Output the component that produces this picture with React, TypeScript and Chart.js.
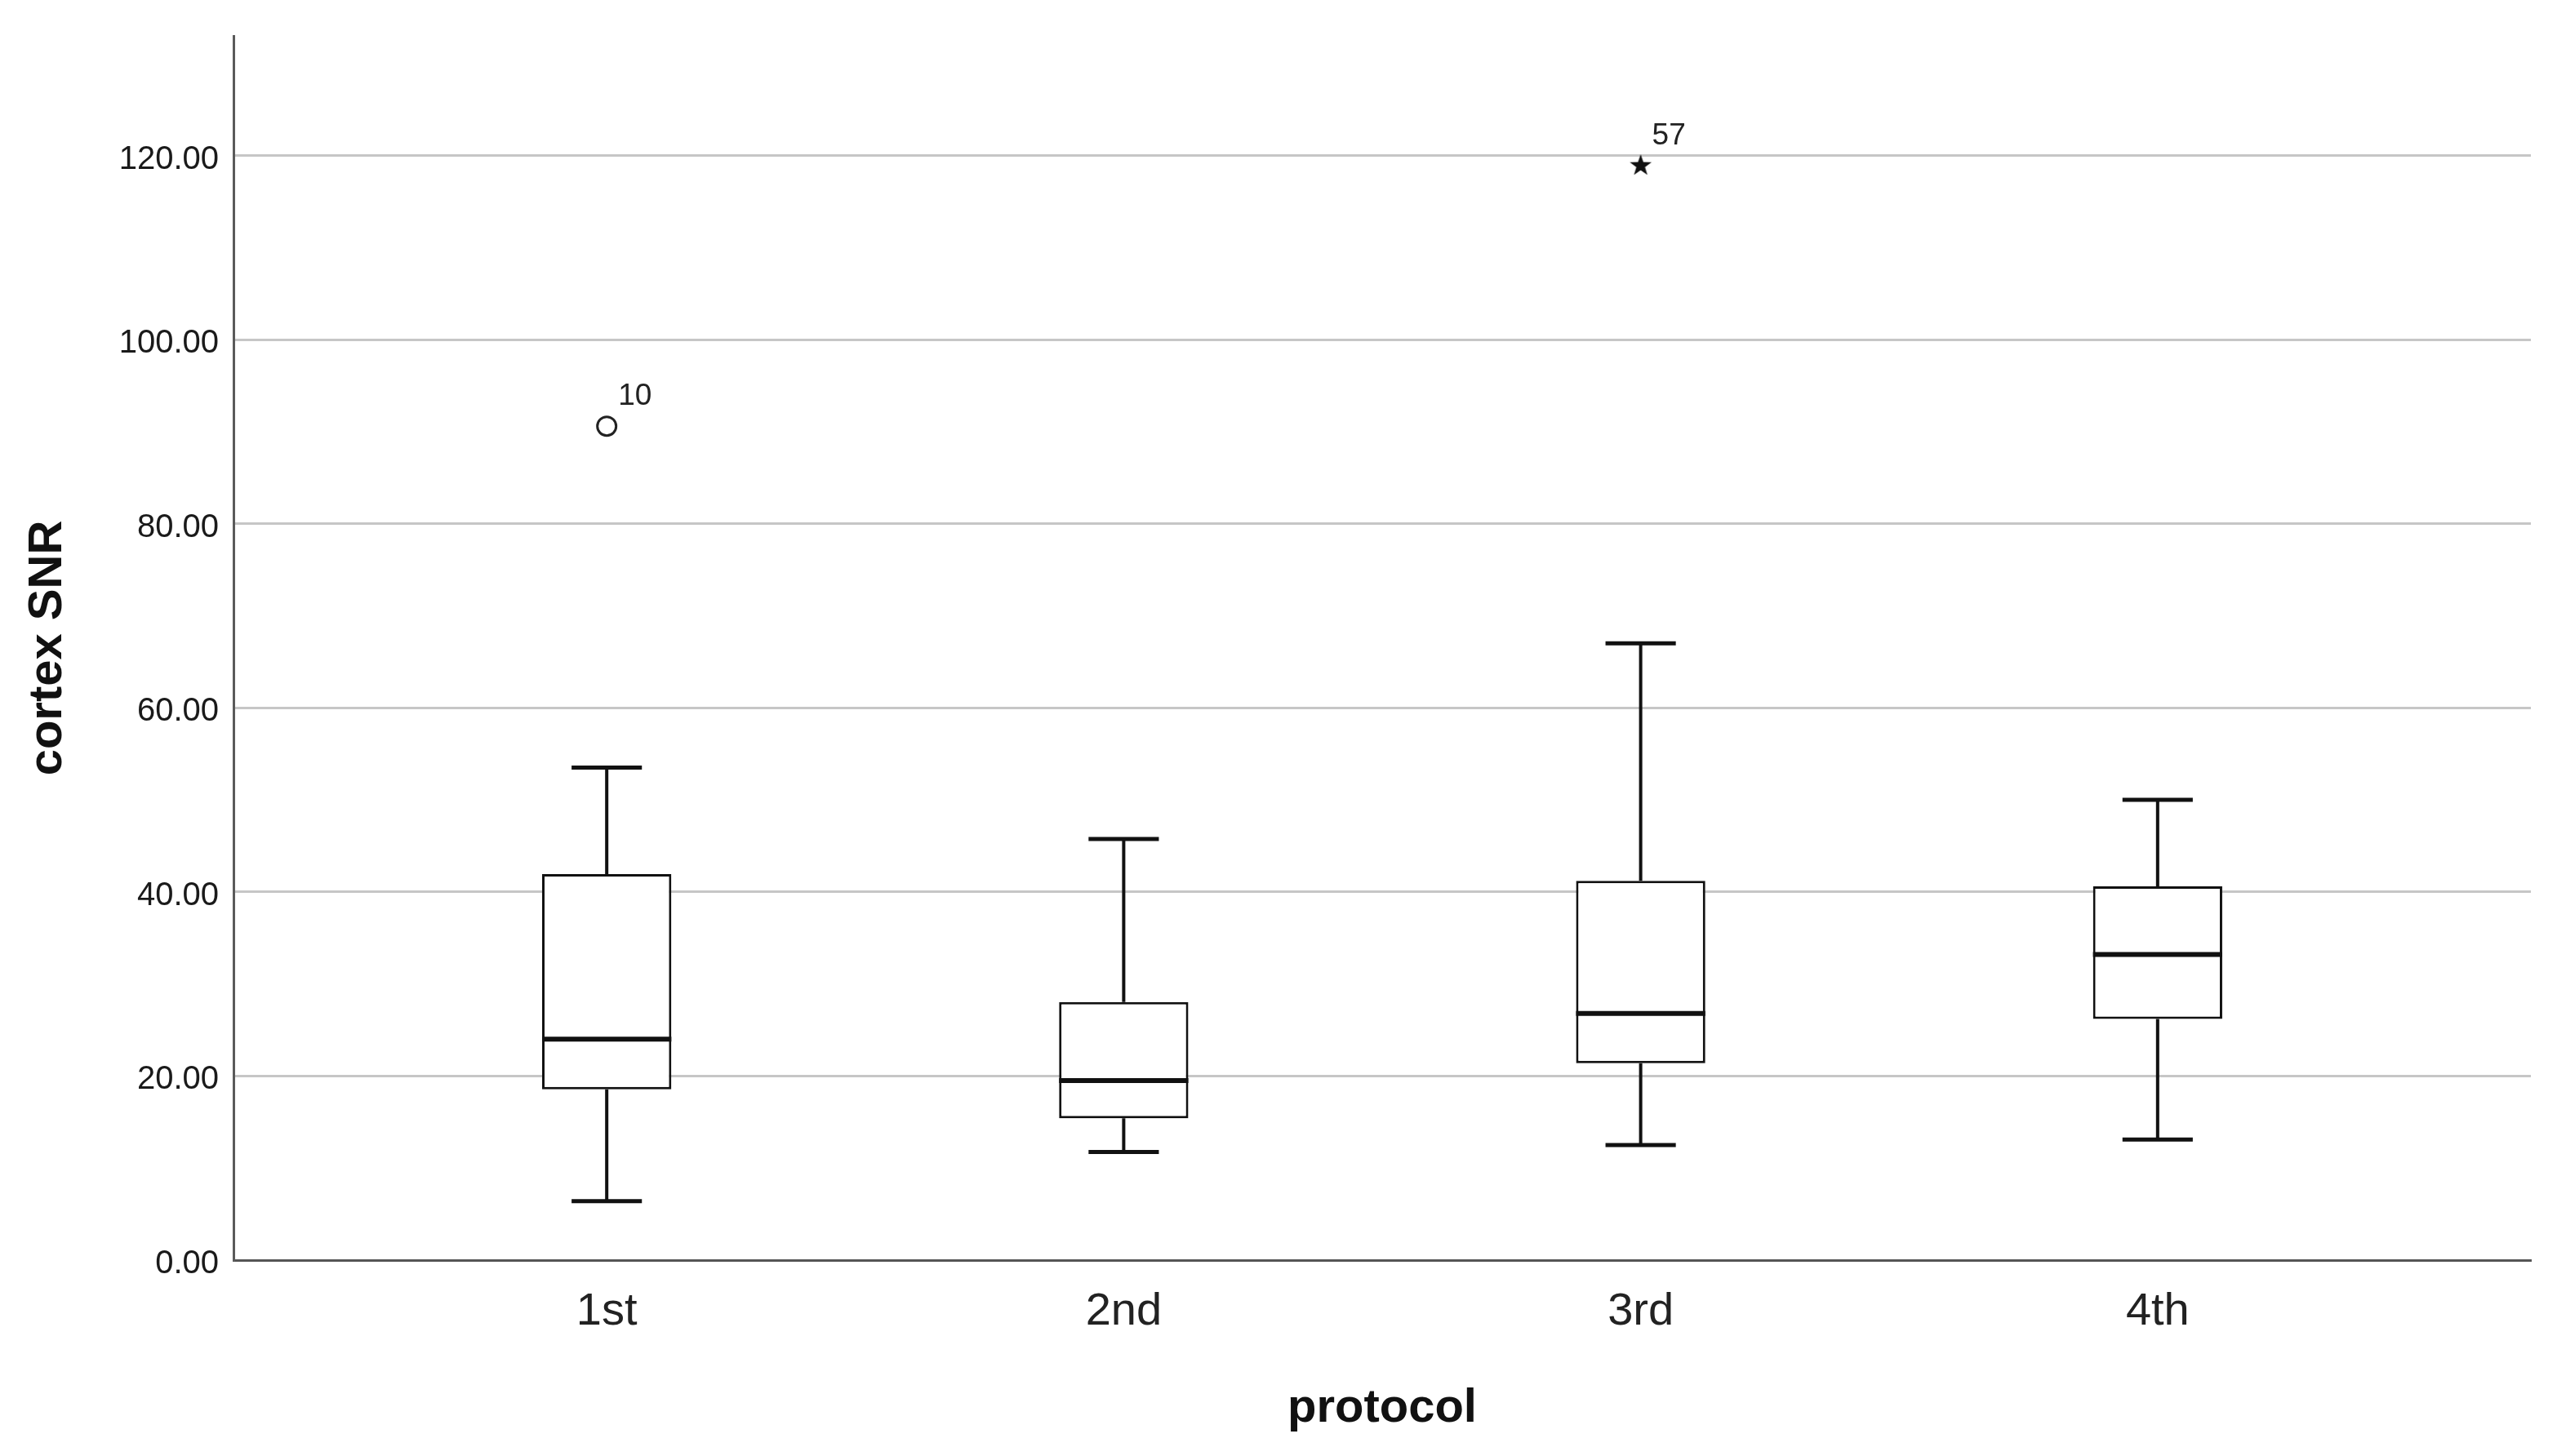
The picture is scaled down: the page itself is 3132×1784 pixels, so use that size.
import React, { useEffect, useRef } from 'react';
import { Chart, registerables } from 'chart.js';

Chart.register(...registerables);

// ---- data ----
const CATEGORIES = ['1st', '2nd', '3rd', '4th'];
const CATEGORY_POS = [1, 2, 3, 4];
const WHISKER_LOW = [6.4, 11.75, 12.5, 13.1];
const Q1 = [18.55, 15.4, 21.4, 26.2];
const MEDIAN = [24.0, 19.5, 26.8, 33.2];
const Q3 = [41.95, 28.05, 41.2, 40.6];
const WHISKER_HIGH = [53.5, 45.75, 67.0, 50.0];

const OUTLIER_POS = [1];
const OUTLIER_VALUES = [90.6];
const OUTLIER_IDS = ['10'];

const EXTREME_POS = [3];
const EXTREME_VALUES = [118.9];
const EXTREME_IDS = ['57'];

const Y_TICKS = [0, 20, 40, 60, 80, 100, 120];
const Y_MAX = 133;
const X_MIN = 0.278;
const X_MAX = 4.722;

const X_TITLE = 'protocol';
const Y_TITLE = 'cortex SNR';

// ---- style constants ----
const FONT = "'Liberation Sans', Arial, Helvetica, sans-serif";
const CAP_HALF = 0.068;
const BOX_HALF = 0.125;
const INK = '#111111';

function makeStar(): HTMLCanvasElement {
  const c = document.createElement('canvas');
  c.width = 32;
  c.height = 32;
  const ctx = c.getContext('2d')!;
  const cx = 16, cy = 16, ro = 14, ri = 5.6;
  ctx.beginPath();
  for (let i = 0; i < 10; i++) {
    const r = i % 2 === 0 ? ro : ri;
    const a = -Math.PI / 2 + (i * Math.PI) / 5;
    const x = cx + r * Math.cos(a);
    const y = cy + r * Math.sin(a);
    if (i === 0) ctx.moveTo(x, y);
    else ctx.lineTo(x, y);
  }
  ctx.closePath();
  ctx.fillStyle = INK;
  ctx.fill();
  return c;
}

export default function App() {
  const ref = useRef<HTMLCanvasElement | null>(null);

  useEffect(() => {
    if (!ref.current) return;

    const boxes = CATEGORY_POS.map((p, i) => ({ x: p, y: [Q1[i], Q3[i]] }));
    const stems = CATEGORY_POS.flatMap((p, i) => [
      { x: p, y: WHISKER_LOW[i] },
      { x: p, y: Q1[i] },
      { x: p, y: null },
      { x: p, y: Q3[i] },
      { x: p, y: WHISKER_HIGH[i] },
      { x: p, y: null },
    ]);
    const caps = CATEGORY_POS.flatMap((p, i) => [
      { x: p - CAP_HALF, y: WHISKER_LOW[i] },
      { x: p + CAP_HALF, y: WHISKER_LOW[i] },
      { x: p, y: null },
      { x: p - CAP_HALF, y: WHISKER_HIGH[i] },
      { x: p + CAP_HALF, y: WHISKER_HIGH[i] },
      { x: p, y: null },
    ]);
    const medians = CATEGORY_POS.flatMap((p, i) => [
      { x: p - BOX_HALF, y: MEDIAN[i] },
      { x: p + BOX_HALF, y: MEDIAN[i] },
      { x: p, y: null },
    ]);
    const outliers = OUTLIER_POS.map((p, i) => ({ x: p, y: OUTLIER_VALUES[i] }));
    const extremes = EXTREME_POS.map((p, i) => ({ x: p, y: EXTREME_VALUES[i] }));

    const star = makeStar();

    const labelPlugin = {
      id: 'caseLabels',
      afterDatasetsDraw(chart: any) {
        const { ctx, scales } = chart;
        ctx.save();
        ctx.font = `37px ${FONT}`;
        ctx.fillStyle = '#222';
        ctx.textAlign = 'left';
        ctx.textBaseline = 'middle';
        const draw = (pos: number[], vals: number[], ids: string[]) => {
          pos.forEach((p, i) => {
            const px = scales.x.getPixelForValue(p);
            const py = scales.y.getPixelForValue(vals[i]);
            ctx.fillText(ids[i], px + 14, py - 36);
          });
        };
        draw(OUTLIER_POS, OUTLIER_VALUES, OUTLIER_IDS);
        draw(EXTREME_POS, EXTREME_VALUES, EXTREME_IDS);
        ctx.restore();
      },
    };

    const chart = new Chart(ref.current, {
      type: 'bar',
      data: {
        datasets: [
          {
            type: 'bar',
            data: boxes as any,
            backgroundColor: '#ffffff',
            borderColor: INK,
            borderWidth: 3,
            borderSkipped: false,
            barPercentage: 0.25,
            categoryPercentage: 1,
            order: 5,
          } as any,
          {
            type: 'line',
            data: stems as any,
            borderColor: INK,
            borderWidth: 4,
            pointRadius: 0,
            spanGaps: false,
            fill: false,
            borderCapStyle: 'butt',
            order: 4,
          },
          {
            type: 'line',
            data: caps as any,
            borderColor: INK,
            borderWidth: 5,
            pointRadius: 0,
            spanGaps: false,
            fill: false,
            borderCapStyle: 'butt',
            order: 3,
          },
          {
            type: 'line',
            data: medians as any,
            borderColor: INK,
            borderWidth: 6,
            pointRadius: 0,
            spanGaps: false,
            fill: false,
            borderCapStyle: 'butt',
            order: 2,
          },
          {
            type: 'scatter',
            data: outliers as any,
            pointStyle: 'circle',
            pointRadius: 11.5,
            pointBorderWidth: 3,
            pointBorderColor: '#222',
            pointBackgroundColor: '#ffffff',
            showLine: false,
            order: 1,
          } as any,
          {
            type: 'scatter',
            data: extremes as any,
            pointStyle: star,
            pointRadius: 14,
            showLine: false,
            order: 0,
          } as any,
        ],
      },
      options: {
        animation: false,
        responsive: false,
        maintainAspectRatio: false,
        devicePixelRatio: 1,
        layout: { padding: { top: 44, right: 32, left: 0, bottom: 0 } },
        plugins: {
          legend: { display: false },
          tooltip: { enabled: false },
        },
        scales: {
          x: {
            type: 'linear',
            min: X_MIN,
            max: X_MAX,
            offset: false,
            afterBuildTicks: (scale: any) => {
              scale.ticks = CATEGORY_POS.map((v) => ({ value: v }));
            },
            afterFit: (scale: any) => {
              scale.height = 240;
            },
            grid: { display: false, drawTicks: false },
            border: { display: true, color: '#555555', width: 3 },
            ticks: {
              padding: 30,
              color: '#222',
              font: { family: FONT, size: 56 },
              maxRotation: 0,
              autoSkip: false,
              callback: (v: any) => {
                const idx = CATEGORY_POS.indexOf(Number(v));
                return idx >= 0 ? CATEGORIES[idx] : '';
              },
            },
            title: {
              display: true,
              text: X_TITLE,
              color: '#111',
              font: { family: FONT, size: 58, weight: 'bold' },
              padding: { top: 0, bottom: 23 },
            },
          },
          y: {
            type: 'linear',
            min: 0,
            max: Y_MAX,
            afterBuildTicks: (scale: any) => {
              scale.ticks = Y_TICKS.map((v) => ({ value: v }));
            },
            afterFit: (scale: any) => {
              scale.width = 286;
            },
            grid: { color: '#c6c6c6', lineWidth: 3, drawTicks: false },
            border: { display: true, color: '#5a5a5a', width: 3 },
            ticks: {
              padding: 18,
              labelOffset: 5,
              color: '#1a1a1a',
              font: { family: FONT, size: 40 },
              callback: (v: any) => Number(v).toFixed(2),
            },
            title: {
              display: true,
              text: Y_TITLE,
              color: '#111',
              font: { family: FONT, size: 58, weight: 'bold' },
              padding: { top: 24, bottom: 0 },
            },
          },
        },
      } as any,
      plugins: [labelPlugin],
    });

    return () => chart.destroy();
  }, []);

  return (
    <div style={{ position: 'absolute', left: 0, top: 0, width: 3132, height: 1784, background: '#ffffff' }}>
      <canvas ref={ref} width={3132} height={1784} style={{ width: 3132, height: 1784, display: 'block' }} />
    </div>
  );
}
